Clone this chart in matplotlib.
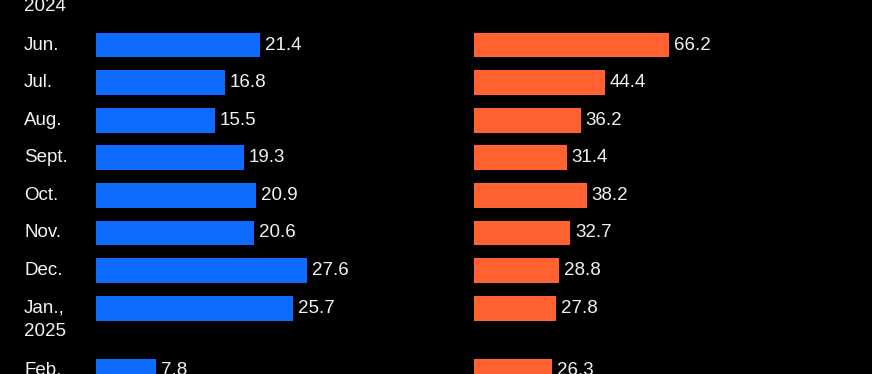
import matplotlib.pyplot as plt

# Monthly values, blue series (left) and orange series (right)
months = ["Jun.", "Jul.", "Aug.", "Sept.", "Oct.", "Nov.", "Dec.", "Jan.,", "Feb."]
blue_vals = [21.4, 16.8, 15.5, 19.3, 20.9, 20.6, 27.6, 25.7, 7.8]
orange_vals = [66.2, 44.4, 36.2, 31.4, 38.2, 32.7, 28.8, 27.8, 26.3]

BG = "#000000"
BLUE = "#0D6BFF"
ORANGE = "#FF6131"
TEXT = "#F2F2F2"
FONT = "Liberation Sans"
FS = 13.5

W, H = 872, 374
ROW = 37.6          # px between rows
TOP = 45            # px, centre of first row
# Feb. sits lower because the Jan. label wraps to two lines
rows = [0, 1, 2, 3, 4, 5, 6, 7, 8.67]

fig = plt.figure(figsize=(W / 100, H / 100), dpi=100, facecolor=BG)

ylo = -TOP / ROW
yhi = (H - TOP) / ROW


def make_axes(left_px, width_px, xmax):
    ax = fig.add_axes([left_px / W, 0, width_px / W, 1])
    ax.set_facecolor(BG)
    ax.patch.set_alpha(0)
    ax.set_xlim(0, xmax)
    ax.set_ylim(yhi, ylo)
    ax.set_axis_off()
    return ax


ax1 = make_axes(96, 240, 240 / 7.66)
ax2 = make_axes(474, 300, 300 / 2.95)

ax1.barh(rows, blue_vals, height=0.66, color=BLUE)
ax2.barh(rows, orange_vals, height=0.66, color=ORANGE)

for ax, vals in ((ax1, blue_vals), (ax2, orange_vals)):
    for r, v in zip(rows, vals):
        ax.annotate(f"{v:.1f}", xy=(v, r), xytext=(3.6, 0), textcoords="offset points",
                    va="center", ha="left", fontsize=FS, color=TEXT, family=FONT)

# Month labels on the far left
lab = fig.add_axes([0, 0, 96 / W, 1])
lab.set_xlim(0, 96)
lab.set_ylim(yhi, ylo)
lab.set_axis_off()
for r, m in zip(rows, months):
    lab.text(24, r, m, va="center", ha="left", fontsize=FS, color=TEXT, family=FONT)
lab.text(24, -1.02, "2024", va="center", ha="left", fontsize=FS, color=TEXT, family=FONT)
lab.text(24, 7.63, "2025", va="center", ha="left", fontsize=FS, color=TEXT, family=FONT)

fig.savefig("out.png", dpi=100, facecolor=BG)
